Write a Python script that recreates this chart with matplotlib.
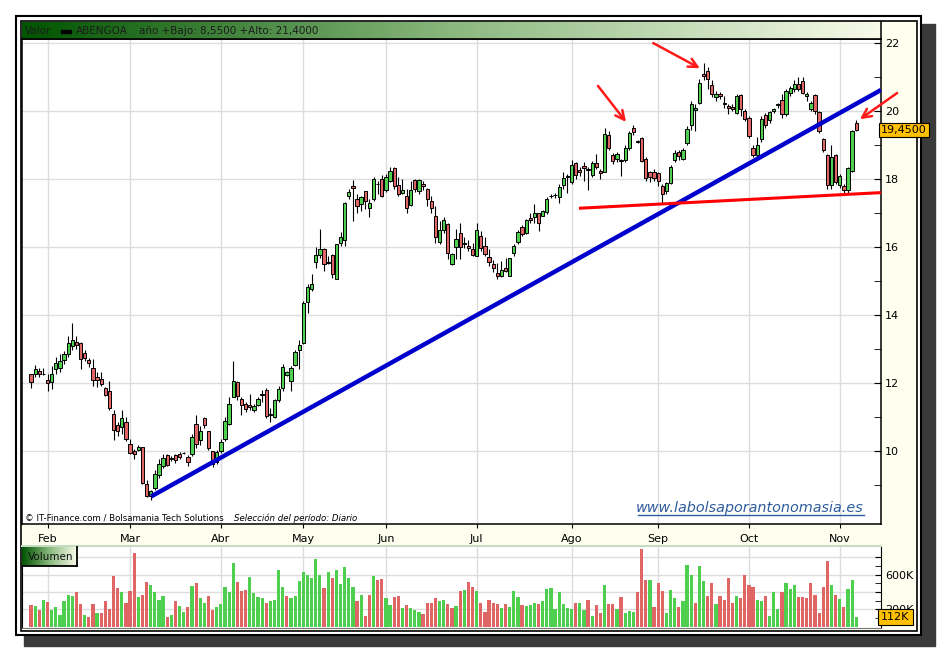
import numpy as np
import matplotlib
matplotlib.use('Agg')
import matplotlib.pyplot as plt
from matplotlib.patches import Rectangle
from matplotlib.colors import LinearSegmentedColormap
from matplotlib.transforms import blended_transform_factory

# ---- data ----
opens = [
    12.25, 12.25, 12.35, 12.26, 12.09, 12.04, 12.41, 12.43, 12.68, 12.85,
    13.10, 13.20, 13.18, 12.88, 12.68, 12.44, 12.18, 12.12, 11.85, 11.77,
    11.09, 10.76, 10.70, 10.85, 10.21, 10.01, 10.03, 10.11, 9.04, 8.68,
    8.91, 9.29, 9.55, 9.88, 9.75, 9.88, 9.91, 9.93, 9.83, 9.90,
    10.80, 10.31, 10.96, 10.59, 10.00, 9.68, 10.00, 10.35, 10.80, 11.60,
    12.02, 11.53, 11.38, 11.35, 11.21, 11.36, 11.66, 11.80, 11.07, 10.99,
    11.50, 11.85, 12.24, 12.06, 12.54, 12.98, 13.18, 14.38, 14.75, 15.56,
    15.76, 15.95, 15.53, 15.76, 15.05, 16.13, 16.20, 17.49, 17.80, 17.41,
    17.26, 17.65, 17.14, 17.41, 17.84, 18.00, 17.67, 17.95, 18.33, 17.82,
    17.59, 17.51, 17.23, 17.97, 17.66, 17.85, 17.70, 17.34, 16.91, 16.15,
    16.50, 16.67, 15.49, 16.00, 16.42, 16.08, 16.03, 15.93, 15.73, 16.33,
    16.03, 15.70, 15.49, 15.23, 15.14, 15.39, 15.16, 15.83, 16.15, 16.60,
    16.42, 16.85, 16.87, 16.99, 16.92, 17.02, 17.49, 17.52, 17.48, 17.82,
    18.06, 17.90, 18.46, 18.28, 18.39, 18.27, 18.12, 18.46, 18.24, 18.20,
    19.29, 18.72, 18.59, 18.54, 18.55, 18.90, 19.51, 19.10, 19.22, 18.60,
    18.21, 18.21, 18.17, 17.80, 17.65, 17.87, 18.56, 18.80, 18.60, 19.07,
    19.60, 20.02, 20.24, 21.09, 21.19, 20.77, 20.41, 20.51, 20.24, 20.15,
    20.12, 19.94, 20.46, 20.00, 19.80, 18.92, 18.70, 19.19, 19.89, 19.75,
    19.99, 20.18, 20.33, 19.92, 20.54, 20.65, 20.80, 20.88, 20.43, 20.07,
    20.48, 19.97, 19.19, 18.72, 17.82, 18.70, 17.82, 17.80, 17.68, 18.24,
    19.65]
highs = [
    12.27, 12.53, 12.45, 12.45, 12.26, 12.51, 12.75, 12.85, 12.95, 13.39,
    13.76, 13.39, 13.20, 12.98, 12.73, 12.71, 12.31, 12.31, 11.89, 12.05,
    11.19, 10.84, 11.19, 10.99, 10.35, 10.06, 10.16, 10.13, 9.13, 8.85,
    9.45, 9.75, 9.90, 9.90, 9.85, 9.90, 9.98, 9.96, 9.88, 10.50,
    11.06, 10.72, 11.01, 10.59, 10.00, 10.03, 10.34, 11.01, 11.60, 12.64,
    12.05, 11.60, 11.45, 11.68, 11.38, 11.60, 11.80, 11.85, 11.26, 11.53,
    11.90, 12.56, 12.35, 12.49, 12.98, 13.25, 14.41, 14.90, 15.20, 16.00,
    16.52, 15.96, 15.74, 15.79, 16.10, 16.43, 17.31, 17.70, 17.97, 17.56,
    17.51, 17.64, 17.41, 18.05, 17.95, 18.12, 18.15, 18.36, 18.34, 18.05,
    18.00, 17.70, 17.95, 18.00, 18.00, 17.95, 17.75, 17.51, 17.21, 16.77,
    16.87, 16.72, 15.83, 16.54, 16.72, 16.28, 16.20, 16.13, 16.72, 16.47,
    16.28, 15.93, 15.61, 15.54, 15.59, 15.68, 15.69, 16.08, 16.50, 16.64,
    16.82, 17.01, 17.26, 17.01, 17.10, 17.46, 17.55, 17.60, 17.85, 18.20,
    18.15, 18.55, 18.50, 18.35, 18.50, 18.35, 18.52, 18.75, 18.30, 19.50,
    19.40, 18.78, 18.79, 18.60, 19.00, 19.40, 19.60, 19.15, 19.25, 18.65,
    18.25, 18.30, 18.20, 17.85, 17.90, 18.40, 18.85, 18.85, 18.90, 19.55,
    20.30, 20.20, 20.95, 21.40, 21.30, 20.90, 20.60, 20.55, 20.45, 20.20,
    20.20, 20.50, 20.50, 20.05, 19.85, 19.00, 19.25, 19.85, 19.95, 20.00,
    20.10, 20.25, 20.50, 20.65, 20.75, 20.90, 21.00, 21.00, 20.55, 20.30,
    20.50, 20.00, 19.20, 18.75, 19.00, 18.75, 18.15, 17.85, 18.35, 19.45,
    19.75]
lows = [
    11.85, 12.17, 12.17, 12.22, 11.77, 11.82, 12.26, 12.31, 12.56, 12.75,
    12.97, 13.00, 12.41, 12.66, 12.46, 11.92, 11.89, 11.92, 11.63, 11.19,
    10.32, 10.45, 10.50, 10.28, 9.91, 9.76, 10.00, 9.03, 8.64, 8.55,
    8.85, 9.20, 9.50, 9.55, 9.70, 9.65, 9.75, 9.90, 9.55, 9.85,
    10.10, 10.18, 10.67, 10.03, 9.54, 9.63, 9.93, 10.29, 10.77, 11.60,
    11.50, 11.06, 11.16, 11.21, 11.14, 11.31, 11.45, 10.96, 10.86, 10.96,
    11.45, 11.75, 12.20, 11.75, 12.49, 12.42, 13.15, 14.06, 14.70, 15.39,
    15.69, 15.29, 15.49, 15.10, 15.05, 16.03, 16.03, 17.41, 16.77, 16.99,
    17.06, 17.11, 16.87, 17.36, 17.56, 17.46, 17.61, 17.90, 17.70, 17.51,
    17.56, 17.00, 17.21, 17.61, 17.56, 17.67, 17.21, 17.01, 16.13, 16.08,
    16.42, 15.64, 15.47, 15.64, 15.64, 15.98, 15.88, 15.73, 15.73, 15.88,
    15.73, 15.44, 15.26, 15.06, 15.12, 15.26, 15.14, 15.73, 16.08, 16.33,
    16.37, 16.72, 16.72, 16.47, 16.90, 16.97, 17.45, 17.45, 17.30, 17.70,
    17.60, 17.85, 18.00, 18.10, 17.95, 17.68, 18.05, 18.30, 18.00, 18.20,
    18.85, 18.45, 18.50, 18.10, 18.50, 18.85, 19.30, 19.05, 18.50, 17.95,
    17.90, 17.95, 17.80, 17.30, 17.55, 17.85, 18.50, 18.55, 18.55, 19.00,
    19.45, 19.40, 20.20, 20.90, 20.65, 20.40, 20.30, 20.35, 20.10, 19.90,
    20.00, 19.90, 19.85, 19.70, 19.20, 18.65, 18.65, 19.10, 19.50, 19.65,
    19.95, 20.10, 19.80, 19.85, 20.45, 20.55, 20.60, 20.50, 20.30, 20.00,
    19.90, 19.35, 18.80, 17.70, 17.70, 17.85, 17.75, 17.55, 17.60, 18.20,
    19.40]
closes = [
    12.04, 12.41, 12.25, 12.27, 12.01, 12.27, 12.59, 12.66, 12.85, 13.18,
    13.26, 13.12, 12.71, 12.74, 12.59, 12.09, 12.10, 11.97, 11.66, 11.26,
    10.63, 10.58, 10.97, 10.35, 9.93, 9.91, 10.13, 9.05, 8.68, 8.82,
    9.32, 9.62, 9.80, 9.60, 9.80, 9.72, 9.82, 9.94, 9.68, 10.41,
    10.20, 10.59, 10.77, 10.08, 9.63, 9.98, 10.27, 10.88, 11.39, 12.05,
    11.62, 11.36, 11.24, 11.29, 11.33, 11.53, 11.68, 11.03, 11.09, 11.50,
    11.83, 12.47, 12.32, 12.44, 12.91, 13.13, 14.36, 14.82, 14.90, 15.76,
    15.95, 15.49, 15.55, 15.22, 16.08, 16.28, 17.29, 17.61, 17.73, 17.21,
    17.46, 17.36, 17.29, 18.00, 17.86, 17.51, 18.05, 18.25, 17.80, 17.56,
    17.67, 17.14, 17.67, 17.70, 17.97, 17.80, 17.41, 17.14, 16.30, 16.50,
    16.79, 15.83, 15.78, 16.25, 16.00, 16.13, 15.97, 15.77, 16.50, 15.98,
    15.78, 15.56, 15.39, 15.14, 15.31, 15.29, 15.67, 16.03, 16.45, 16.37,
    16.79, 16.79, 16.99, 16.72, 17.06, 17.40, 17.51, 17.54, 17.78, 18.02,
    18.08, 18.41, 18.12, 18.21, 18.31, 18.29, 18.46, 18.34, 18.17, 19.32,
    18.90, 18.53, 18.74, 18.56, 18.90, 19.34, 19.37, 19.12, 18.53, 18.04,
    18.07, 18.04, 17.94, 17.56, 17.87, 18.36, 18.78, 18.67, 18.85, 19.48,
    20.21, 20.10, 20.83, 21.02, 20.95, 20.49, 20.51, 20.43, 20.22, 20.10,
    20.07, 20.43, 20.07, 19.78, 19.26, 18.70, 18.99, 19.78, 19.58, 19.97,
    20.07, 20.19, 19.92, 20.59, 20.67, 20.80, 20.65, 20.54, 20.51, 20.24,
    20.00, 19.40, 18.85, 17.82, 18.65, 17.92, 18.09, 17.68, 18.31, 19.40,
    19.45]
# volume in thousands of shares
volumes = [
    249, 238, 192, 307, 284, 192, 222, 134, 295, 365,
    353, 399, 261, 134, 111, 261, 157, 157, 295, 203,
    584, 445, 399, 272, 411, 849, 342, 365, 515, 480,
    399, 307, 353, 111, 134, 295, 238, 168, 226, 468,
    503, 330, 272, 353, 192, 226, 261, 457, 399, 734,
    515, 411, 422, 572, 388, 342, 330, 272, 295, 307,
    653, 457, 353, 330, 353, 526, 630, 595, 561, 780,
    595, 445, 630, 561, 653, 492, 688, 561, 457, 295,
    365, 122, 365, 584, 538, 549, 330, 249, 342, 353,
    215, 249, 215, 192, 168, 145, 272, 272, 330, 295,
    307, 261, 215, 238, 411, 422, 515, 457, 411, 276,
    172, 307, 276, 261, 215, 261, 226, 411, 342, 249,
    238, 249, 276, 261, 295, 434, 445, 203, 399, 261,
    215, 203, 276, 276, 192, 307, 122, 249, 157, 480,
    261, 261, 203, 342, 157, 180, 168, 399, 895, 538,
    538, 226, 503, 411, 157, 422, 330, 226, 295, 711,
    599, 276, 699, 526, 353, 503, 261, 353, 307, 561,
    276, 353, 330, 595, 480, 457, 307, 295, 353, 122,
    399, 203, 399, 503, 434, 480, 342, 342, 330, 503,
    365, 157, 457, 757, 480, 365, 318, 226, 434, 538,
    112]
month_names = ['Feb', 'Mar', 'Abr', 'May', 'Jun', 'Jul', 'Ago', 'Sep', 'Oct', 'Nov']
month_start = [4, 24, 46, 66, 86, 108, 131, 152, 174, 196]   # bar index of first session
# trend lines drawn by hand on the original (bar index, price)
support_line = [(29.1, 8.66), (206.0, 20.62)]
flat_line = [(132.8, 17.14), (206.0, 17.60)]
# red arrows (tail -> head)
arrows = [((137.4, 20.74), (144.2, 19.68)),
          ((150.8, 22.00), (162.1, 21.26)),
          ((209.9, 20.53), (200.9, 19.76))]

GREEN = '#4fcf4f'
RED = '#e06666'
W, H = 940, 652


def box(x0, y0, x1, y1):
    # pixel box (top-left origin) -> figure fraction rect
    return [x0 / W, 1 - y1 / H, (x1 - x0) / W, (y1 - y0) / H]


o, h, l, c = map(np.array, (opens, highs, lows, closes))
vol = np.array(volumes)
x = np.arange(len(c))
XLIM = (-2.2, 206.0)

plt.rcParams['font.family'] = 'DejaVu Sans'
fig = plt.figure(figsize=(9.4, 6.52), dpi=100)
fig.patch.set_facecolor('white')

# window frame with shadow
bg = fig.add_axes([0, 0, 1, 1], zorder=0)
bg.set_xlim(0, W)
bg.set_ylim(H, 0)
bg.axis('off')
bg.add_patch(Rectangle((24, 24), 911, 622, color='#3a3a3a'))
bg.add_patch(Rectangle((16, 16), 905, 619, facecolor='white', edgecolor='black', lw=1.5))
bg.add_patch(Rectangle((21, 21), 896, 610, facecolor='#fffff0', edgecolor='black', lw=1.2))

# ---- price panel ----
ax = fig.add_axes(box(22, 39, 881, 524), zorder=2)
ax.set_facecolor('white')
up = c >= o
ax.vlines(x, l, h, color='black', lw=0.8, zorder=3)
ax.bar(x, np.maximum(np.abs(c - o), 0.015), bottom=np.minimum(o, c), width=0.8,
       color=np.where(up, GREEN, RED), edgecolor='black', linewidth=0.7, zorder=4)

(sx0, sy0), (sx1, sy1) = support_line
ax.plot([sx0, sx1], [sy0, sy1], color='#0000cc', lw=3.2, solid_capstyle='butt', zorder=5)
(fx0, fy0), (fx1, fy1) = flat_line
ax.plot([fx0, fx1], [fy0, fy1], color='#ff0000', lw=2.2, solid_capstyle='butt', zorder=5)
for tail, head in arrows:
    ax.annotate('', xy=head, xytext=tail, annotation_clip=False,
                arrowprops=dict(arrowstyle='->', color='#ff1a1a', lw=1.8,
                                mutation_scale=16, shrinkA=0, shrinkB=0),
                zorder=6)

ax.set_xlim(*XLIM)
ax.set_ylim(7.85, 22.12)
ax.set_xticks(month_start)
ax.set_xticklabels(month_names)
ax.yaxis.tick_right()
ax.set_yticks(range(10, 23, 2))
ax.set_yticks(range(9, 22, 2), minor=True)
ax.grid(True, which='major', color='#dddddd', lw=1, zorder=0)
ax.set_axisbelow(True)
ax.tick_params(axis='y', which='both', direction='in', length=5, labelsize=8, pad=3, color='black')
ax.tick_params(axis='x', direction='out', length=3, labelsize=8, pad=4)
for s in ax.spines.values():
    s.set_color('black')
    s.set_linewidth(1.1)

last_tr = blended_transform_factory(ax.transAxes, ax.transData)
ax.text(1.0, c[-1], f'{c[-1]:.4f}'.replace('.', ','), transform=last_tr, ha='left', va='center',
        fontsize=8, clip_on=False, zorder=7,
        bbox=dict(boxstyle='square,pad=0.18', fc='#ffc000', ec='black', lw=0.8))

# ---- title bar ----
grad = LinearSegmentedColormap.from_list('bar', ['#005400', '#8ab87e', '#f8fbea'])
tb = fig.add_axes(box(22, 22, 881, 39), zorder=3)
tb.imshow(np.linspace(0, 1, 256).reshape(1, -1), aspect='auto', cmap=grad,
          extent=[22, 881, 39, 22])
tb.set_xlim(22, 881)
tb.set_ylim(39, 22)
tb.set_xticks([])
tb.set_yticks([])
for k in ('top', 'left'):
    tb.spines[k].set_visible(False)
tb.spines['bottom'].set_linewidth(1.2)
tb.spines['right'].set_linewidth(1.1)
tcol = '#1c1c1c'
tb.text(25, 31, 'Valor', fontsize=7.5, color=tcol, va='center')
tb.add_patch(Rectangle((61, 29.5), 10, 3, color='black'))
tb.text(76, 31, 'ABENGOA', fontsize=7.5, color=tcol, va='center')
tb.text(139, 31, 'año +Bajo: {:.4f} +Alto: {:.4f}'.format(l.min(), h.max()).replace('.', ','),
        fontsize=7.5, color=tcol, va='center')

# credits and website
cred = fig.text(25 / W, 1 - 518 / H, '© IT-Finance.com / Bolsamania Tech Solutions',
                fontsize=6.2, va='center', zorder=10)
sel = fig.text(228 / W, 1 - 518 / H, 'Selección del período: Diario', fontsize=6.2,
               style='italic', va='center', zorder=10)
web = fig.text(636 / W, 1 - 508 / H, 'www.labolsaporantonomasia.es', fontsize=10.4,
               style='italic', color='#2e5c9c', va='center', zorder=10)

# ---- volume panel ----
axv = fig.add_axes(box(22, 546, 881, 628), zorder=2)
axv.set_facecolor('white')
vup = np.r_[up[0], c[1:] >= c[:-1]]
axv.bar(x, vol, width=0.78, color=np.where(vup, GREEN, RED), zorder=3)
axv.set_xlim(*XLIM)
axv.set_ylim(-16, 930)
axv.set_xticks(month_start)
axv.set_xticklabels([])
axv.tick_params(axis='x', length=0)
axv.yaxis.tick_right()
axv.set_yticks([200, 400, 600, 800])
axv.set_yticklabels(['200K', '', '600K', ''])
axv.set_yticks([100, 300, 500, 700], minor=True)
axv.tick_params(axis='y', which='both', direction='in', length=4, labelsize=8, pad=3)
axv.grid(True, which='major', color='#dddddd', lw=1, zorder=0)
axv.set_axisbelow(True)
axv.spines['top'].set_color('#c4ddc0')
axv.spines['top'].set_linewidth(1.5)
axv.spines['bottom'].set_color('#777777')
axv.spines['left'].set_color('black')
axv.spines['right'].set_color('black')
vtr = blended_transform_factory(axv.transAxes, axv.transData)
axv.text(1.0, vol[-1], f'{vol[-1]}K', transform=vtr, ha='left', va='center', fontsize=8,
         clip_on=False, zorder=7,
         bbox=dict(boxstyle='square,pad=0.3', fc='#ffc000', ec='black', lw=0.8))

# "Volumen" tag
vb = fig.add_axes(box(22, 547, 77, 566), zorder=4)
vb.imshow(np.linspace(0, 1, 128).reshape(1, -1), aspect='auto', cmap=grad, extent=[0, 1, 0, 1])
vb.set_xticks([])
vb.set_yticks([])
vb.spines['top'].set_visible(False)
vb.spines['left'].set_visible(False)
vb.spines['right'].set_linewidth(1.3)
vb.spines['bottom'].set_linewidth(1.3)
vb.text(0.1, 0.5, 'Volumen', transform=vb.transAxes, fontsize=7.5, va='center', color='#111111')

# underline for the website text, and keep the two credit parts apart
fig.canvas.draw()
cb = cred.get_window_extent()
if cb.x1 + 10 > 228:
    sel.set_x((cb.x1 + 10) / W)
bb = web.get_window_extent()
fig.add_artist(plt.Line2D([bb.x0 / W + 0.002, bb.x1 / W], [bb.y0 / H, bb.y0 / H],
                          color='#2e5c9c', lw=1, transform=fig.transFigure, zorder=10))

fig.savefig('out.png', dpi=100)
